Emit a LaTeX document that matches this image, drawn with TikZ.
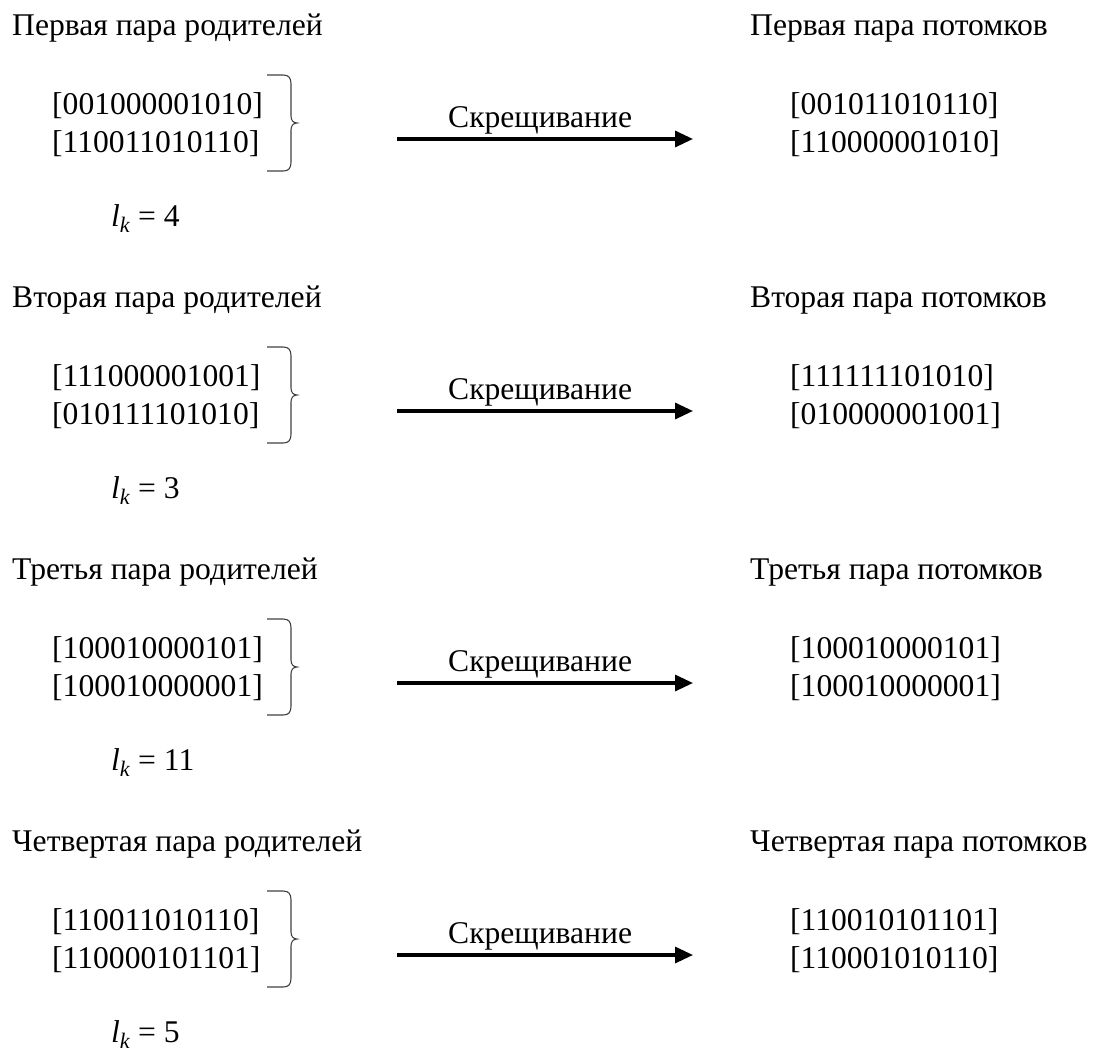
\documentclass[tikz,border=0pt]{standalone}
\usepackage{fontspec}
\usepackage{amsmath}
\setmainfont{Liberation Serif}
\usetikzlibrary{arrows.meta}
\tikzset{
  txt/.style={anchor=base west, inner sep=0pt, font=\fontsize{31.6}{36}\selectfont},
  bracestyle/.style={line width=1.1pt, draw=black!75},
  crossarrow/.style={line width=3.2pt, -{Triangle[length=18pt,width=16pt]}}
}
\begin{document}
\begin{tikzpicture}[x=1pt,y=-1pt]
\useasboundingbox (0,0) rectangle (1099,1052);
\foreach \i/\ord/\pa/\pb/\ca/\cb/\lk in {
  0/Первая/001000001010/110011010110/001011010110/110000001010/4,
  1/Вторая/111000001001/010111101010/111111101010/010000001001/3,
  2/Третья/100010000101/100010000001/100010000101/100010000001/11,
  3/Четвертая/110011010110/110000101101/110010101101/110001010110/5}{
  \pgfmathsetmacro{\dy}{272*\i}
  \begin{scope}[yshift=-\dy pt]
    \node[txt] (hl\i) at (12,35) {\ord\ пара родителей};
    \node[txt] (hr\i) at (750,35) {\ord\ пара потомков};
    \node[txt] (pa\i) at (52,114) {[\pa]};
    \node[txt] (pb\i) at (52,152) {[\pb]};
    \node[txt] (ca\i) at (790,114) {[\ca]};
    \node[txt] (cb\i) at (790,152) {[\cb]};
    \node[txt] (lk\i) at (111,226) {\textit{l}$_{\text{\itshape k}}$ = \lk};
    \node[txt] (lab\i) at (448,127) {Скрещивание};
    \coordinate (as\i) at (397,139);
    \coordinate (ae\i) at (693,139);
    \draw[crossarrow] (as\i) -- (ae\i);
    \draw[bracestyle] (267,75) -- (283,75) .. controls (289,75) and (291,78) .. (291,84)
      -- (291,116) .. controls (291,120) and (293,123) .. (297,123)
      .. controls (293,123) and (291,126) .. (291,130)
      -- (291,162) .. controls (291,168) and (289,171) .. (283,171) -- (267,171);
  \end{scope}
}
\end{tikzpicture}
\end{document}
